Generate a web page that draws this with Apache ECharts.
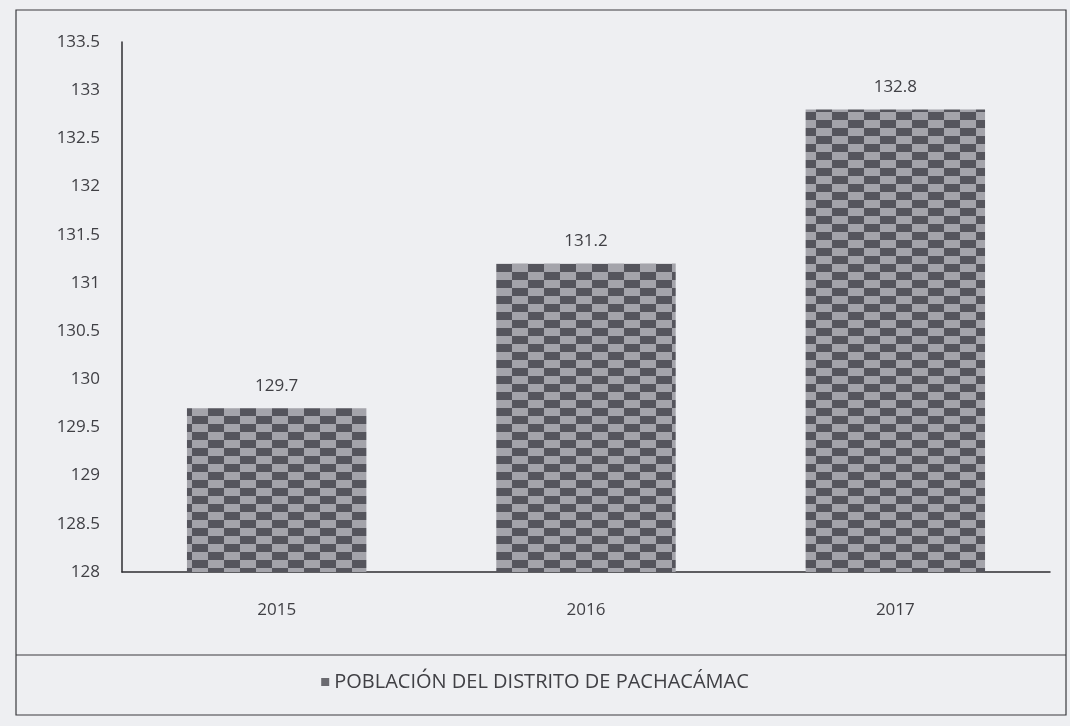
<!DOCTYPE html>
<html>
<head>
<meta charset="utf-8">
<script src="https://cdn.jsdelivr.net/npm/echarts@6/dist/echarts.min.js"></script>
<style>
  html, body { margin: 0; padding: 0; background: #eeeff2; }
  #chart { width: 1070px; height: 726px; }
</style>
</head>
<body>
<div id="chart"></div>
<script>
// Población del distrito de Pachacámac (miles)
const years = ['2015', '2016', '2017'];
const poblacion = [129.7, 131.2, 132.8];
const seriesName = 'POBLACIÓN DEL DISTRITO DE PACHACÁMAC';

// checkered fill like the printed bars
function makePattern() {
  const c = document.createElement('canvas');
  c.width = 32; c.height = 32;
  const ctx = c.getContext('2d');
  ctx.fillStyle = '#a4a4ab';
  ctx.fillRect(0, 0, 32, 32);
  ctx.fillStyle = '#55555d';
  ctx.fillRect(0, 0, 16, 8);
  ctx.fillRect(16, 8, 16, 8);
  ctx.fillRect(0, 16, 16, 8);
  ctx.fillRect(16, 24, 16, 8);
  return c;
}

const chart = echarts.init(document.getElementById('chart'));
const txt = '#404045';
chart.setOption({
  backgroundColor: '#eeeff2',
  textStyle: { fontFamily: '"Open Sans", sans-serif' },
  animation: false,
  grid: { left: 122, right: 20, top: 42, bottom: 154 },
  legend: {
    bottom: 29,
    left: 'center',
    icon: 'rect',
    itemWidth: 8, itemHeight: 8,
    itemGap: 6,
    textStyle: { color: txt, fontSize: 20 },
    data: [{ name: seriesName, itemStyle: { color: '#6a6a70' } }]
  },
  xAxis: {
    type: 'category',
    data: years,
    axisLine: { lineStyle: { color: '#2e2e32', width: 1.5 } },
    axisTick: { show: false },
    axisLabel: { color: txt, fontSize: 17, margin: 30 }
  },
  yAxis: {
    type: 'value',
    min: 128, max: 133.5, interval: 0.5,
    axisLine: { show: true, lineStyle: { color: '#2e2e32', width: 1.5 } },
    axisTick: { show: false },
    splitLine: { show: false },
    axisLabel: { color: txt, fontSize: 17, margin: 22 }
  },
  series: [{
    name: seriesName,
    type: 'bar',
    data: poblacion,
    barWidth: '58%',
    itemStyle: { color: { image: makePattern(), repeat: 'repeat' } },
    label: {
      show: true, position: 'top', distance: 14,
      color: txt, fontSize: 17,
      formatter: p => p.value.toFixed(1)
    }
  }],
  graphic: [
    { type: 'rect', shape: { x: 16, y: 10, width: 1050, height: 705 },
      style: { fill: 'none', stroke: '#3a3a3e', lineWidth: 1.2 } },
    { type: 'line', shape: { x1: 16, y1: 655, x2: 1066, y2: 655 },
      style: { stroke: '#3a3a3e', lineWidth: 1.2 } }
  ]
});
</script>
</body>
</html>
